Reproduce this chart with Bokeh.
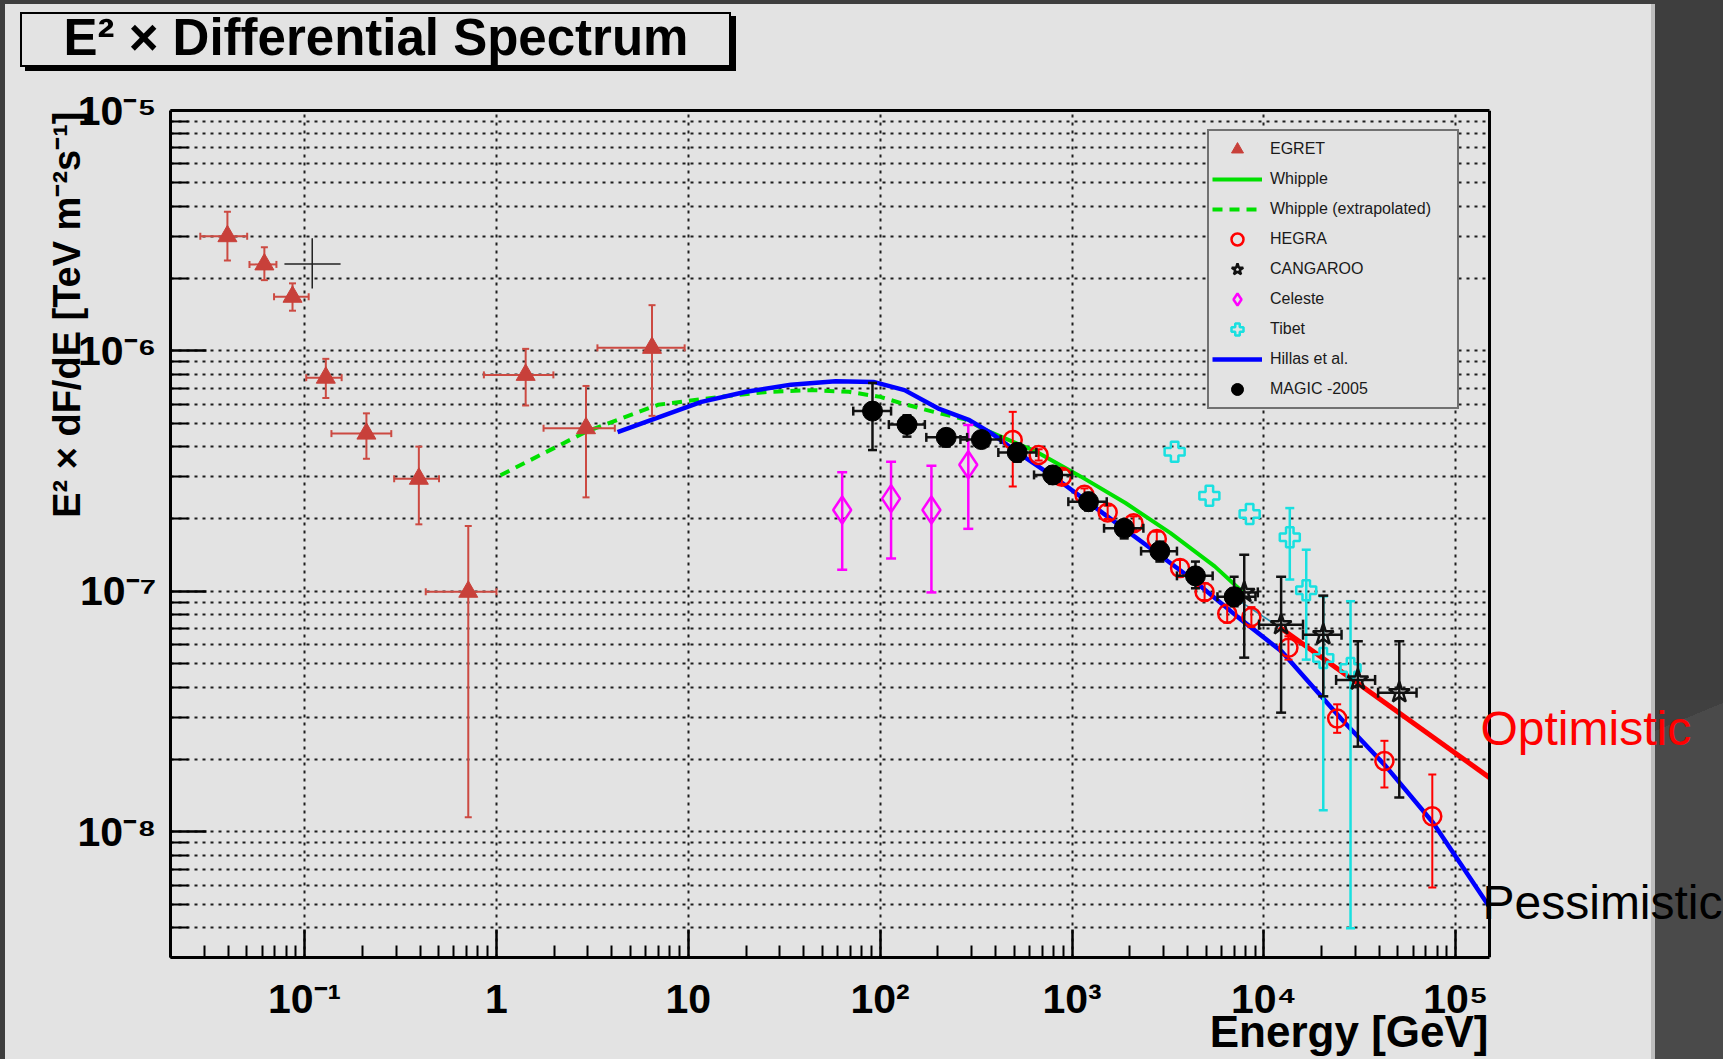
import math
import numpy as np
from bokeh.plotting import figure
from bokeh.models import (ColumnDataSource, FixedTicker, Legend, LegendItem, Label, Title,
                          Span, LogAxis, InlineStyleSheet)
from bokeh.embed import file_html
from bokeh.resources import INLINE

nan = float("nan")

# ---------------- data ----------------
egret_e = [0.0396, 0.0617, 0.0865, 0.129, 0.210, 0.394, 0.713, 1.42, 2.93, 6.47]
egret_f = [3.0e-6, 2.29e-6, 1.68e-6, 7.74e-7, 4.53e-7, 2.94e-7, 9.96e-8, 7.95e-7, 4.77e-7, 1.03e-6]
egret_elo = [0.0286, 0.0516, 0.0693, 0.102, 0.138, 0.293, 0.428, 0.86, 1.76, 3.36]
egret_ehi = [0.0502, 0.0713, 0.105, 0.156, 0.283, 0.502, 1.0, 1.98, 4.14, 9.57]
egret_flo = [2.38e-6, 1.97e-6, 1.47e-6, 6.37e-7, 3.56e-7, 1.90e-7, 1.15e-8, 5.93e-7, 2.46e-7, 5.37e-7]
egret_fhi = [3.79e-6, 2.70e-6, 1.91e-6, 9.27e-7, 5.50e-7, 4.00e-7, 1.87e-7, 1.02e-6, 7.15e-7, 1.55e-6]

cross_e = [0.1096]
cross_f = [2.30e-6]
cross_elo = [0.0785]
cross_ehi = [0.154]
cross_flo = [1.82e-6]
cross_fhi = [2.94e-6]

magic_e = [91.2, 138, 221, 337, 518, 794, 1219, 1871, 2870, 4400, 7000]
magic_f = [5.62e-7, 4.94e-7, 4.37e-7, 4.28e-7, 3.78e-7, 3.05e-7, 2.36e-7, 1.83e-7, 1.47e-7, 1.16e-7, 9.5e-8]
magic_elo = [72.4, 111, 174, 262, 413, 634, 957, 1469, 2291, 3524, 5730]
magic_ehi = [114, 171, 284, 425, 652, 1000, 1517, 2355, 3524, 5408, 9040]
magic_flo = [3.87e-7, 4.4e-7, 4.0e-7, 4.0e-7, 3.46e-7, 2.8e-7, 2.17e-7, 1.66e-7, 1.33e-7, 1.03e-7, 8.67e-8]
magic_fhi = [7.36e-7, 5.4e-7, 4.69e-7, 4.54e-7, 4.12e-7, 3.3e-7, 2.57e-7, 1.95e-7, 1.61e-7, 1.33e-7, 1.15e-7]

hegra_e = [491, 670, 885, 1161, 1534, 2094, 2767, 3656, 4909, 6441, 8610, 13430, 24100, 42500, 75500]
hegra_f = [4.26e-7, 3.69e-7, 3.0e-7, 2.52e-7, 2.13e-7, 1.92e-7, 1.65e-7, 1.25e-7, 9.94e-8,
           8.07e-8, 7.83e-8, 5.83e-8, 2.96e-8, 1.97e-8, 1.16e-8]
hegra_flo = [2.73e-7, 3.5e-7, 2.8e-7, 2.38e-7, 2.0e-7, 1.8e-7, 1.54e-7, 1.16e-7, 9.2e-8,
             7.4e-8, 7.1e-8, 5.2e-8, 2.58e-8, 1.53e-8, 5.87e-9]
hegra_fhi = [5.58e-7, 3.9e-7, 3.2e-7, 2.68e-7, 2.27e-7, 2.05e-7, 1.77e-7, 1.35e-7, 1.08e-7,
             8.8e-8, 8.6e-8, 6.5e-8, 3.39e-8, 2.39e-8, 1.73e-8]

cang_e = [7900, 12300, 20400, 30900, 50800]
cang_f = [9.9e-8, 7.27e-8, 6.6e-8, 4.28e-8, 3.79e-8]
cang_elo = [6700, 9440, 16000, 23800, 39400]
cang_ehi = [9300, 16000, 25400, 38000, 62500]
cang_flo = [5.3e-8, 3.13e-8, 3.66e-8, 2.26e-8, 1.39e-8]
cang_fhi = [1.42e-7, 1.15e-7, 9.6e-8, 6.2e-8, 6.2e-8]

celeste_e = [63.4, 114, 185, 288]
celeste_f = [2.18e-7, 2.43e-7, 2.18e-7, 3.36e-7]
celeste_flo = [1.23e-7, 1.37e-7, 9.9e-8, 1.82e-7]
celeste_fhi = [3.13e-7, 3.46e-7, 3.33e-7, 4.92e-7]

tibet_e = [3427, 5200, 8430, 13650, 16630, 20400, 28300]
tibet_f = [3.81e-7, 2.5e-7, 2.1e-7, 1.68e-7, 1.01e-7, 5.28e-8, 4.8e-8]
tibet_flo = [nan, nan, nan, 1.12e-7, 5.2e-8, 1.23e-8, 3.97e-9]
tibet_fhi = [nan, nan, nan, 2.22e-7, 1.49e-7, 9.53e-8, 9.1e-8]

hillas_e = [4.28, 11.7, 20.0, 34.3, 58.5, 92.3, 134, 200, 292, 381, 499, 851, 1455, 2483,
            4246, 7244, 12390, 25410, 43050, 76210, 150000]
hillas_f = [4.60e-7, 6.14e-7, 6.76e-7, 7.24e-7, 7.48e-7, 7.43e-7, 6.87e-7, 5.77e-7, 5.15e-7,
            4.54e-7, 3.87e-7, 2.90e-7, 2.11e-7, 1.54e-7, 1.12e-7, 7.87e-8, 5.62e-8, 2.94e-8,
            1.88e-8, 1.09e-8, 4.87e-9]

whipple_ext_e = [1.05, 2.96, 6.95, 14.6, 26.2, 44.8, 68.7, 100, 131, 190, 277, 355]
whipple_ext_f = [3.04e-7, 4.63e-7, 5.97e-7, 6.44e-7, 6.76e-7, 6.87e-7, 6.76e-7, 6.44e-7,
                 6.04e-7, 5.58e-7, 5.19e-7, 4.68e-7]
whipple_e = [355, 652, 1114, 1901, 3251, 5546, 7852]
whipple_f = [4.68e-7, 3.81e-7, 3.0e-7, 2.33e-7, 1.75e-7, 1.27e-7, 9.84e-8]

optimistic_e = [12020, 150000]
optimistic_f = [7.11e-8, 1.68e-8]
link_e = [6950, 12020]
link_f = [9.47e-8, 7.11e-8]

x_major = [0.1, 1, 10, 100, 1000, 10000, 100000]
x_labels = ["10\u207b\u00b9", "1", "10", "10\u00b2", "10\u00b3", "10\u2074", "10\u2075"]
y_major = [1e-8, 1e-7, 1e-6, 1e-5]
y_labels = ["10\u207b\u2078", "10\u207b\u2077", "10\u207b\u2076", "10\u207b\u2075"]
x_minor = [m * 10.0 ** k for k in range(-2, 5) for m in range(2, 10)]
y_minor = [m * 10.0 ** k for k in range(-9, -5) for m in range(2, 10)]

X_MIN, X_MAX = 0.02, 1.5e5
Y_MIN, Y_MAX = 3e-9, 1e-5

# ---------------- layout geometry (page pixels) ----------------
W, H = 1723, 1059
FL, FR, FT, FB = 170, 1489, 110, 957      # drawn axes box
px_dec_x = (FR - FL) / math.log10(X_MAX / X_MIN)
x_end = X_MAX * 10 ** ((W - FR) / px_dec_x)   # frame runs on to the page's right edge


def sx(X):
    return X - FL


def sy(Y):
    return FB - Y


css = """
:host {
  background-color: #3e3e3e;
  background-image:
    linear-gradient(#e3e3e3, #e3e3e3),
    linear-gradient(#000000, #000000),
    linear-gradient(#000000, #000000),
    linear-gradient(#bdbdbd, #bdbdbd),
    linear-gradient(#e3e3e3, #e3e3e3),
    linear-gradient(157.6deg, #404040 8%, #4a4a4a 8%);
  background-position: 22px 14px, 20px 12px, 25px 16px, 1651px 4px, 5px 4px, 1655px 700px;
  background-size: 707px 51px, 711px 55px, 711px 55px, 4px 1055px, 1646px 1055px, 68px 359px;
  background-repeat: no-repeat;
}
"""

p = figure(width=W, height=H, x_axis_type="log", y_axis_type="log",
           x_range=(X_MIN, x_end), y_range=(Y_MIN, Y_MAX),
           output_backend="svg", toolbar_location=None, title_location=None,
           min_border_left=FL, min_border_right=0, min_border_top=FT, min_border_bottom=H - FB,
           background_fill_alpha=0, border_fill_alpha=0, outline_line_color=None)
p.stylesheets = [InlineStyleSheet(css=css)]

FONT = "Liberation Sans"

xa = p.xaxis[0]
xa.ticker = FixedTicker(ticks=x_major, minor_ticks=x_minor)
xa.major_label_overrides = dict(zip(x_major, x_labels))
xa.bounds = (X_MIN, X_MAX)
xa.major_tick_in = 28
xa.major_tick_out = 0
xa.minor_tick_in = 12
xa.minor_tick_out = 0
xa.major_label_standoff = 18

ya = p.yaxis[0]
ya.ticker = FixedTicker(ticks=y_major, minor_ticks=y_minor)
ya.major_label_overrides = dict(zip(y_major, y_labels))
ya.major_tick_in = 36
ya.major_tick_out = 0
ya.minor_tick_in = 18
ya.minor_tick_out = 0
ya.major_label_standoff = 14

for ax in (xa, ya):
    ax.axis_line_width = 3
    ax.axis_line_color = "black"
    ax.major_tick_line_width = 2.5
    ax.minor_tick_line_width = 2
    ax.major_tick_line_color = "black"
    ax.minor_tick_line_color = "black"
    ax.major_label_text_font = FONT
    ax.major_label_text_font_style = "bold"
    ax.major_label_text_font_size = "41px"
    ax.major_label_text_color = "black"

# top edge of the axes box; its (blank) label keeps the title clear of the box
top_axis = LogAxis(ticker=FixedTicker(ticks=[]), bounds=(X_MIN, X_MAX), axis_line_width=3,
                   axis_line_color="black", major_tick_in=0, major_tick_out=0,
                   minor_tick_in=0, minor_tick_out=0, major_label_standoff=0,
                   axis_label="\u00a0", axis_label_text_font_size="30px",
                   axis_label_standoff=9)
p.add_layout(top_axis, "above")

GRID_DASH = "3 5"
p.xgrid.ticker = FixedTicker(ticks=x_major)
p.ygrid.ticker = FixedTicker(ticks=y_major + y_minor)
for g in (p.xgrid[0], p.ygrid[0]):
    g.grid_line_color = "#1e1e1e"
    g.grid_line_dash = GRID_DASH
    g.grid_line_width = 2
try:
    p.ygrid[0].cross_bounds = (X_MIN, X_MAX)
except AttributeError:
    p.ygrid[0].visible = False
    yl = y_major + y_minor
    p.segment(x0=[X_MIN] * len(yl), y0=yl, x1=[X_MAX] * len(yl), y1=yl,
              line_color="#1e1e1e", line_dash=GRID_DASH, line_width=2)

# right edge of the axes box
p.add_layout(Span(location=X_MAX, dimension="height", line_color="black", line_width=3))

# ---------------- curves ----------------
r_wext = p.line(whipple_ext_e, whipple_ext_f, line_color="#00e000", line_width=4, line_dash="10 7")
r_whip = p.line(whipple_e, whipple_f, line_color="#00e000", line_width=4)
r_hillas = p.line(hillas_e, hillas_f, line_color="#0000ff", line_width=4.5)
p.line(link_e, link_f, line_color="#2a8fb0", line_width=1.5)
p.line(optimistic_e, optimistic_f, line_color="#ff0000", line_width=5)


def errbars(x, y, color, width, cap, ylo=None, yhi=None, xlo=None, xhi=None, caps=True):
    if ylo is not None:
        src = ColumnDataSource(dict(x=x, lo=np.array(ylo, dtype=float), hi=np.array(yhi, dtype=float)))
        p.segment(x0="x", y0="lo", x1="x", y1="hi", source=src, line_color=color, line_width=width)
        if caps:
            p.scatter(x="x", y="lo", source=src, marker="dash", size=cap, line_color=color, line_width=width)
            p.scatter(x="x", y="hi", source=src, marker="dash", size=cap, line_color=color, line_width=width)
    if xlo is not None:
        src = ColumnDataSource(dict(y=y, lo=np.array(xlo, dtype=float), hi=np.array(xhi, dtype=float)))
        p.segment(x0="lo", y0="y", x1="hi", y1="y", source=src, line_color=color, line_width=width)
        if caps:
            p.scatter(x="lo", y="y", source=src, marker="dash", angle=math.pi / 2, size=cap,
                      line_color=color, line_width=width)
            p.scatter(x="hi", y="y", source=src, marker="dash", angle=math.pi / 2, size=cap,
                      line_color=color, line_width=width)


EG = "#c8403a"
errbars(egret_e, egret_f, "#cc4a42", 2, 7, egret_flo, egret_fhi, egret_elo, egret_ehi)
r_egret = p.scatter(egret_e, egret_f, marker="triangle", size=19, fill_color=EG, line_color=EG)

errbars(cross_e, cross_f, "#222222", 1.5, 0, cross_flo, cross_fhi, cross_elo, cross_ehi, caps=False)

errbars(celeste_e, celeste_f, "#ff00ff", 2.5, 10, celeste_flo, celeste_fhi)
r_cel = p.scatter(celeste_e, celeste_f, marker="diamond", size=27, fill_color=None,
                  line_color="#ff00ff", line_width=2.5)

errbars(tibet_e, tibet_f, "#19e0e0", 2.5, 9, tibet_flo, tibet_fhi)
r_tibet = p.scatter(tibet_e, tibet_f, marker="plus", size=20, fill_color=None,
                    line_color="#19e0e0", line_width=2.5)

errbars(hegra_e, hegra_f, "#ff0000", 2, 8, hegra_flo, hegra_fhi)
r_hegra = p.scatter(hegra_e, hegra_f, marker="circle", size=18, fill_color=None,
                    line_color="#ff0000", line_width=2.5)

errbars(cang_e, cang_f, "#111111", 2.5, 10, cang_flo, cang_fhi, cang_elo, cang_ehi)
r_cang = p.scatter(cang_e, cang_f, marker="star", size=22, fill_color=None,
                   line_color="#111111", line_width=2.5)

errbars(magic_e, magic_f, "#111111", 2.5, 9, magic_flo, magic_fhi, magic_elo, magic_ehi)
r_magic = p.scatter(magic_e, magic_f, marker="circle", size=20, fill_color="black", line_color="black")

# ---------------- legend ----------------
legend = Legend(items=[
    LegendItem(label="EGRET", renderers=[r_egret]),
    LegendItem(label="Whipple", renderers=[r_whip]),
    LegendItem(label="Whipple (extrapolated)", renderers=[r_wext]),
    LegendItem(label="HEGRA", renderers=[r_hegra]),
    LegendItem(label="CANGAROO", renderers=[r_cang]),
    LegendItem(label="Celeste", renderers=[r_cel]),
    LegendItem(label="Tibet", renderers=[r_tibet]),
    LegendItem(label="Hillas et al.", renderers=[r_hillas]),
    LegendItem(label="MAGIC -2005", renderers=[r_magic]),
], location=(1207 - FL, FB - 409), padding=3, spacing=0, glyph_height=30, glyph_width=50,
    label_height=30, label_standoff=8, label_width=184,
    label_text_font=FONT, label_text_font_size="16px", label_text_color="#1a1a1a",
    border_line_color="black", border_line_width=2.5,
    background_fill_color="#e3e3e3", background_fill_alpha=1)
p.add_layout(legend)

# ---------------- texts ----------------
p.add_layout(Label(x=sx(1480), y=sy(728), x_units="screen", y_units="screen",
                   text="Optimistic", text_align="left", text_baseline="alphabetic",
                   text_font=FONT, text_font_size="48px", text_color="#ff0000"))
p.add_layout(Label(x=sx(1482), y=sy(902), x_units="screen", y_units="screen",
                   text="Pessimistic", text_align="left", text_baseline="alphabetic",
                   text_font=FONT, text_font_size="48px", text_color="black"))

p.add_layout(Title(text="E\u00b2 \u00d7 Differential Spectrum", align="left", offset=63 - FL,
                   vertical_align="bottom", standoff=0, text_font=FONT, text_font_style="bold",
                   text_font_size="51px", text_color="black"), "above")
p.add_layout(Title(text="E\u00b2 \u00d7 dF/dE [TeV m\u207b\u00b2s\u207b\u00b9]", align="right",
                   offset=1, standoff=-26, text_font=FONT, text_font_style="bold",
                   text_font_size="38px", text_color="black"), "left")
p.add_layout(Title(text="Energy [GeV]", align="right", offset=W - 1488, vertical_align="top",
                   standoff=-35, text_font=FONT, text_font_style="bold",
                   text_font_size="44px", text_color="black"), "below")

open("out.html", "w").write(file_html(p, INLINE))
